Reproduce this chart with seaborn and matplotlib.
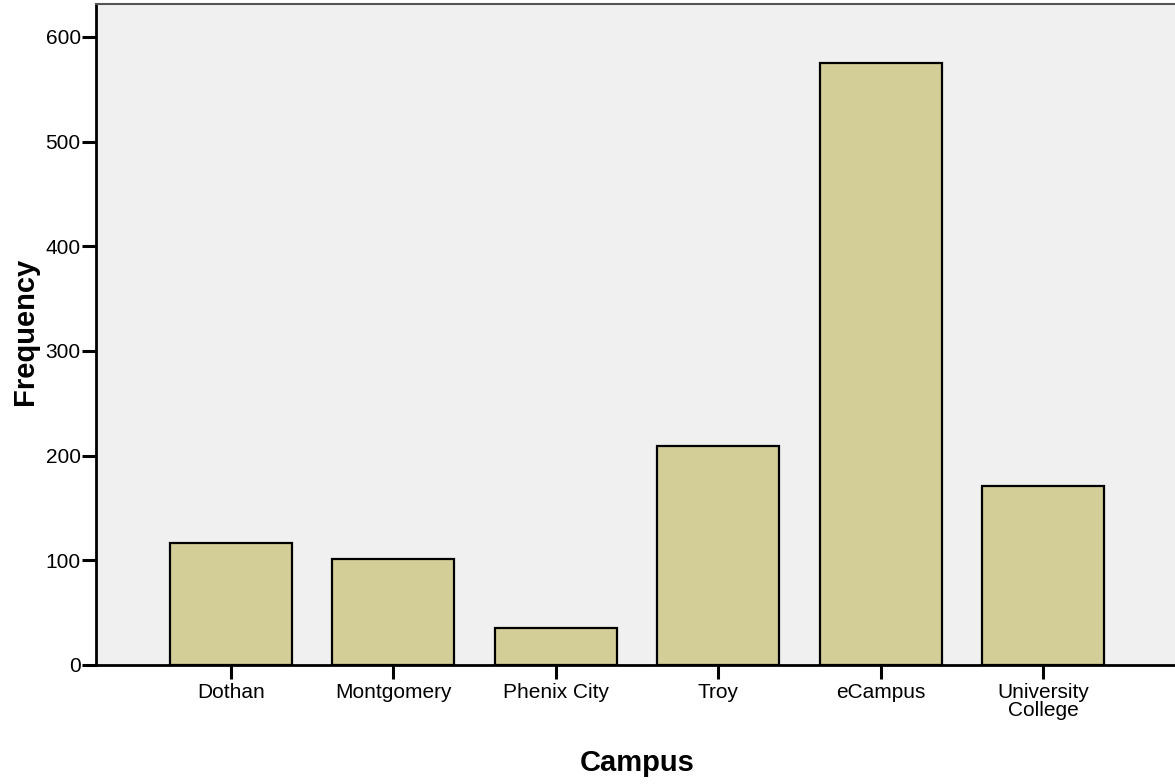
import matplotlib
matplotlib.use('Agg')
import matplotlib.pyplot as plt
import seaborn as sns
import pandas as pd

# Campus frequencies
campuses = ["Dothan", "Montgomery", "Phenix City", "Troy", "eCampus", "University\nCollege"]
frequency = [117, 101, 35, 209, 575, 171]
y_ticks = [0, 100, 200, 300, 400, 500, 600]

df = pd.DataFrame({"campus": campuses, "freq": frequency})

sns.set_style("white")
plt.rcParams['font.family'] = ['Liberation Sans', 'DejaVu Sans']
plt.rcParams['text.color'] = 'black'
plt.rcParams['xtick.color'] = 'black'
plt.rcParams['ytick.color'] = 'black'
plt.rcParams['axes.labelcolor'] = 'black'

fig = plt.figure(figsize=(11.75, 7.84), dpi=100)
ax = fig.add_axes([96 / 1175, 119 / 784, 1 - 96 / 1175, 661 / 784])
ax.set_facecolor("#F0F0F0")

sns.barplot(data=df, x="campus", y="freq", color="#D3CE97", saturation=1,
            width=0.75, edgecolor="black", linewidth=1.6, ax=ax)

ax.set_xlim(-0.83, 5.81)
ax.set_ylim(0, 631.5)
ax.set_yticks(y_ticks)

ax.tick_params(axis="both", which="major", direction="out", length=10, width=2.2,
               colors="black", labelsize=15, bottom=True, left=True)
ax.tick_params(axis="x", pad=3)
ax.tick_params(axis="y", pad=1)
for lbl in ax.get_xticklabels():
    lbl.set_linespacing(0.9)

for side in ["left", "bottom"]:
    ax.spines[side].set_color("black")
    ax.spines[side].set_linewidth(2)
ax.spines["top"].set_color("#555555")
ax.spines["top"].set_linewidth(1.5)
ax.spines["right"].set_visible(False)

ax.set_xlabel("Campus", fontsize=21, fontweight="bold", va="center")
ax.set_ylabel("Frequency", fontsize=21, fontweight="bold", va="center")
ax.xaxis.set_label_coords(0.502, -0.148)
ax.yaxis.set_label_coords(-0.066, 0.505)

fig.savefig("out.png", dpi=100)
plt.close(fig)
